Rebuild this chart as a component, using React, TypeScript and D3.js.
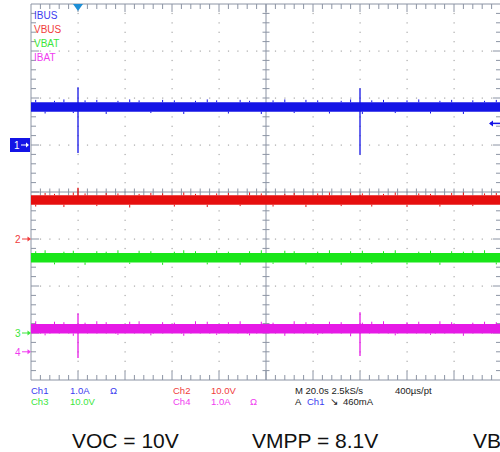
import React from "react";
import * as d3 from "d3";

// ---- data ----
const channelNames = ["IBUS", "VBUS", "VBAT", "IBAT"];
const channelColors = ["#1414e6", "#e60f0f", "#19e619", "#e619e6"];
const labelColors = ["#3c3cf0", "#f03c3c", "#3ce63c", "#f03cf0"];
const unitsPerDiv = [1.0, 10.0, 10.0, 1.0];
const groundDiv = [1.0, -1.0, -3.0, -3.4];
const levels = [0.81, 8.3, 16.0, 0.49];
const noiseHalf = [0.1, 1.0, 1.0, 0.1];
const spikeTimes = [0, 120];
const spikeMax = [[1.23, 1.21], [10.9, 9.4], [16.6, 16.5], [0.82, 0.84]];
const spikeMin = [[-0.17, -0.21], [8.0, 8.0], [15.4, 15.4], [-0.13, -0.09]];
const glitchT = [-18, -14, -10, -6, -2, 3, 8, 12, 17, 22, 26, 31, 36, 41, 45, 50, 55, 59, 64, 69, 73, 78, 83, 88, 92, 97, 102, 107, 112, 116, 121, 125, 130, 135, 140, 145, 150, 154, 159, 164, 168, 173, 178];
const glitchA = [
  [0.05, -0.04, 0.03, 0.06, -0.03, 0.04, 0.05, -0.05, 0.03, 0.06, 0.04, -0.03, 0.05, 0.04, -0.05, 0.03, 0.06, 0.04, -0.04, 0.05, 0.03, -0.05, 0.04, 0.06, -0.03, 0.05, 0.04, -0.04, 0.03, 0.06, -0.05, 0.04, 0.05, -0.03, 0.04, 0.06, -0.04, 0.03, 0.05, -0.05, 0.04, 0.03, 0.05],
  [-0.04, 0.05, 0.03, -0.05, 0.06, 0.04, -0.03, 0.05, 0.04, -0.06, 0.03, 0.05, 0.04, -0.04, 0.06, 0.03, -0.05, 0.04, 0.05, -0.03, 0.06, 0.04, -0.04, 0.03, 0.05, -0.05, 0.04, 0.06, -0.03, 0.05, 0.04, -0.04, 0.03, 0.06, -0.05, 0.04, 0.03, -0.04, 0.05, 0.06, -0.03, 0.04, 0.05],
  [0.04, 0.06, -0.04, 0.03, 0.05, -0.05, 0.04, 0.03, 0.06, -0.03, 0.05, 0.04, -0.05, 0.03, 0.06, 0.04, -0.04, 0.05, 0.03, -0.05, 0.04, 0.06, -0.03, 0.05, 0.04, -0.04, 0.03, 0.06, -0.05, 0.04, 0.05, -0.03, 0.04, 0.06, -0.04, 0.03, 0.05, -0.05, 0.04, 0.03, 0.05, 0.06, -0.04],
  [0.06, -0.04, 0.05, 0.04, -0.05, 0.03, 0.06, 0.04, -0.03, 0.05, 0.06, -0.04, 0.04, 0.03, -0.05, 0.06, 0.05, -0.03, 0.04, 0.06, -0.04, 0.05, 0.03, -0.05, 0.06, 0.04, -0.03, 0.05, 0.04, -0.06, 0.03, 0.05, 0.06, -0.04, 0.04, 0.05, -0.03, 0.06, 0.04, -0.05, 0.03, 0.05, 0.04],
];
const timeDomain = [-20, 180];
const triggerTime = 0;
const triggerLevel = 0.46; // A on Ch1
const readoutRow1 = [
  { t: "Ch1", c: 0 }, { t: "1.0A", c: 0 }, { t: "\u03A9", c: 0 },
  { t: "Ch2", c: 1 }, { t: "10.0V", c: 1 },
  { t: "M 20.0s 2.5kS/s", c: -1 }, { t: "400\u00B5s/pt", c: -1 },
];
const readoutRow2 = [
  { t: "Ch3", c: 2 }, { t: "10.0V", c: 2 },
  { t: "Ch4", c: 3 }, { t: "1.0A", c: 3 }, { t: "\u03A9", c: 3 },
  { t: "A", c: -1 }, { t: "Ch1", c: 0 }, { t: "\u2198", c: -1 }, { t: "460mA", c: -1 },
];
const row1X = [31, 70, 110, 173, 211, 295, 395];
const row2X = [31, 70, 173, 211, 250, 295, 307, 330, 343];
const captions = ["VOC = 10V", "VMPP = 8.1V", "VBAT = 16V"];
const captionX = [72, 252, 473];

// ---- layout ----
const W = 500, H = 452;
const L = 31, T = 4, DIV = 47;
const x = d3.scaleLinear().domain(timeDomain).range([L, L + 10 * DIV]);
const yDiv = d3.scaleLinear().domain([4, -4]).range([T, T + 8 * DIV]);
const yCh = (i: number, v: number) => yDiv(groundDiv[i] + v / unitsPerDiv[i]);
const GRID = "#8c94a4";
const DOT = "#a8a8a8";
const FONT = "'Liberation Sans', Arial, sans-serif";

export default function App() {
  const R = L + 10 * DIV;
  const B = T + 8 * DIV;
  const minor = DIV / 5;
  const dots: JSX.Element[] = [];
  for (let k = 1; k < 10; k++) {
    if (k === 5) continue;
    const xx = L + k * DIV;
    for (let j = 1; j < 40; j++) {
      const yy = T + j * minor;
      dots.push(<rect key={`v${k}-${j}`} x={xx - 0.5} y={yy - 0.5} width={1.2} height={1.2} fill={DOT} />);
    }
  }
  for (let k = 1; k < 8; k++) {
    if (k === 4) continue;
    const yy = T + k * DIV;
    for (let j = 1; j < 50; j++) {
      const xx = L + j * minor;
      if (j % 5 === 0) continue;
      dots.push(<rect key={`h${k}-${j}`} x={xx - 0.5} y={yy - 0.5} width={1.2} height={1.2} fill={DOT} />);
    }
  }
  const ticks: JSX.Element[] = [];
  for (let j = 1; j < 50; j++) {
    const xx = L + j * minor;
    const maj = j % 5 === 0;
    ticks.push(<line key={`ct${j}`} x1={xx} x2={xx} y1={yDiv(0) - 3.5} y2={yDiv(0) + 3.5} stroke={GRID} />);
    ticks.push(<line key={`tt${j}`} x1={xx} x2={xx} y1={T} y2={T + (maj ? 8 : 5)} stroke={GRID} />);
    ticks.push(<line key={`bt${j}`} x1={xx} x2={xx} y1={B} y2={B - (maj ? 9 : 5)} stroke={GRID} />);
  }
  for (let j = 1; j < 40; j++) {
    const yy = T + j * minor;
    const maj = j % 5 === 0;
    ticks.push(<line key={`cv${j}`} y1={yy} y2={yy} x1={x(80) - 3.5} x2={x(80) + 3.5} stroke={GRID} />);
    ticks.push(<line key={`lt${j}`} y1={yy} y2={yy} x1={L} x2={L + (maj ? 8 : 5)} stroke={GRID} />);
    ticks.push(<line key={`rt${j}`} y1={yy} y2={yy} x1={R} x2={R - (maj ? 8 : 5)} stroke={GRID} />);
  }

  const band = (i: number) =>
    d3.area<number>()
      .x((t) => x(t))
      .y0(() => yCh(i, levels[i] - noiseHalf[i]))
      .y1(() => yCh(i, levels[i] + noiseHalf[i]))(timeDomain) || "";

  const colorOf = (c: number) => (c < 0 ? "#222" : labelColors[c]);

  return (
    <svg width={W} height={H} style={{ position: "absolute", left: 0, top: 0, background: "#fff" }} fontFamily={FONT}>
      <rect width={W} height={H} fill="#fff" />
      {dots}
      {/* borders and center cross */}
      <line x1={L} x2={R} y1={T} y2={T} stroke={GRID} />
      <line x1={L} x2={R} y1={B} y2={B} stroke={GRID} />
      <line x1={L} x2={L} y1={T} y2={B} stroke={GRID} />
      <line x1={R} x2={R} y1={T} y2={B} stroke={GRID} />
      <line x1={L} x2={R} y1={yDiv(0)} y2={yDiv(0)} stroke={GRID} />
      <line x1={x(80)} x2={x(80)} y1={T} y2={B} stroke={GRID} />
      {ticks}

      {/* traces */}
      {channelNames.map((n, i) => (
        <g key={n}>
          <path d={band(i)} fill={channelColors[i]} />
          {glitchT.map((t, k) => {
            const a = glitchA[i][k];
            const edge = a > 0 ? levels[i] + noiseHalf[i] : levels[i] - noiseHalf[i];
            return (
              <line key={k} x1={x(t)} x2={x(t)} y1={yCh(i, edge)} y2={yDiv(groundDiv[i] + edge / unitsPerDiv[i] + a)}
                stroke={channelColors[i]} strokeWidth={1} />
            );
          })}
          {spikeTimes.map((t, k) => (
            <line key={`s${k}`} x1={x(t)} x2={x(t)} y1={yCh(i, spikeMax[i][k])} y2={yCh(i, spikeMin[i][k])}
              stroke={channelColors[i]} strokeWidth={1.3} />
          ))}
        </g>
      ))}

      {/* trigger position marker */}
      <path d={`M${x(triggerTime) - 5},${T} L${x(triggerTime) + 5},${T} L${x(triggerTime)},${T + 7} Z`} fill="#1e8fd6" />
      {/* trigger level arrow on right */}
      <line x1={490} x2={500} y1={yCh(0, triggerLevel)} y2={yCh(0, triggerLevel)} stroke={channelColors[0]} strokeWidth={1.5} />
      <path d={`M489,${yCh(0, triggerLevel)} l4,-3 l0,6 Z`} fill={channelColors[0]} />

      {/* channel ground markers */}
      {channelNames.map((n, i) => {
        const yy = yDiv(groundDiv[i]);
        if (i === 0) {
          return (
            <g key={`m${i}`}>
              <rect x={10} y={yy - 7} width={20} height={14} fill={channelColors[0]} />
              <text x={14} y={yy + 4} fontSize={10} fill="#fff">1</text>
              <line x1={21} x2={28} y1={yy} y2={yy} stroke="#fff" strokeWidth={1} />
              <path d={`M29,${yy} l-3,-2.5 l0,5 Z`} fill="#fff" />
            </g>
          );
        }
        return (
          <g key={`m${i}`}>
            <text x={15} y={yy + 4} fontSize={10} fill={labelColors[i]}>{i + 1}</text>
            <line x1={22} x2={29} y1={yy} y2={yy} stroke={labelColors[i]} strokeWidth={1} />
            <path d={`M31,${yy} l-3.5,-2.5 l0,5 Z`} fill={labelColors[i]} />
          </g>
        );
      })}

      {/* channel labels */}
      {channelNames.map((n, i) => (
        <text key={`l${n}`} x={34} y={18.5 + i * 14} fontSize={10} fill={labelColors[i]}>{n}</text>
      ))}

      {/* readouts */}
      {readoutRow1.map((r, k) => (
        <text key={`r1${k}`} x={row1X[k]} y={394} fontSize={9.5} fill={colorOf(r.c)}>{r.t}</text>
      ))}
      {readoutRow2.map((r, k) => (
        <text key={`r2${k}`} x={row2X[k]} y={405} fontSize={9.5} fill={colorOf(r.c)}>{r.t}</text>
      ))}

      {/* captions */}
      {captions.map((c, k) => (
        <text key={`c${k}`} x={captionX[k]} y={448} fontSize={21} fill="#111">{c}</text>
      ))}
    </svg>
  );
}
